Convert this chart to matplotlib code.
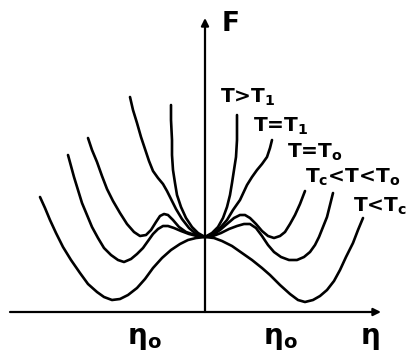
import matplotlib
matplotlib.use("Agg")
import matplotlib.pyplot as plt

plt.rcParams["font.family"] = ["DejaVu Sans"]
plt.rcParams["mathtext.fontset"] = "dejavusans"

# Landau free energy F(eta) for several temperatures (arbitrary units)
eta_below_tc = [-1.65, -1.60, -1.55, -1.49, -1.42, -1.34, -1.25, -1.17, -1.08, -1.01,
                -0.93, -0.85, -0.77, -0.68, -0.60, -0.52, -0.43, -0.34, -0.25, -0.17,
                -0.09, 0.00, 0.09, 0.17, 0.27, 0.37, 0.47, 0.57, 0.65, 0.75,
                0.85, 0.93, 1.00, 1.08, 1.15, 1.22, 1.29, 1.35, 1.41, 1.48,
                1.53, 1.58]
f_below_tc = [1.15, 1.04, 0.92, 0.79, 0.65, 0.52, 0.39, 0.28, 0.20, 0.15,
              0.12, 0.13, 0.17, 0.24, 0.33, 0.44, 0.54, 0.62, 0.68, 0.72,
              0.74, 0.75, 0.74, 0.71, 0.66, 0.59, 0.52, 0.44, 0.37, 0.27,
              0.18, 0.12, 0.10, 0.12, 0.16, 0.22, 0.31, 0.42, 0.55, 0.69,
              0.82, 0.94]

eta_tc_t0 = [-1.37, -1.34, -1.31, -1.27, -1.23, -1.18, -1.13, -1.07, -1.01, -0.94,
             -0.87, -0.81, -0.74, -0.68, -0.62, -0.57, -0.52, -0.47, -0.42, -0.37,
             -0.31, -0.24, -0.16, -0.08, 0.00,
             0.08, 0.16, 0.24, 0.32, 0.39, 0.45, 0.51, 0.57, 0.63, 0.69,
             0.76, 0.84, 0.92, 0.99, 1.05, 1.10, 1.14, 1.18, 1.22, 1.25, 1.28]
f_tc_t0 = [1.57, 1.46, 1.35, 1.22, 1.09, 0.97, 0.85, 0.74, 0.64, 0.57,
           0.52, 0.50, 0.53, 0.58, 0.64, 0.71, 0.78, 0.83, 0.86, 0.86,
           0.84, 0.81, 0.78, 0.76, 0.75,
           0.76, 0.79, 0.83, 0.86, 0.88, 0.88, 0.84, 0.76, 0.67, 0.60,
           0.55, 0.52, 0.52, 0.55, 0.60, 0.67, 0.75, 0.85, 0.95, 1.07, 1.19]

eta_t0 = [-1.17, -1.13, -1.08, -1.03, -0.98, -0.92, -0.85, -0.78, -0.71, -0.65,
          -0.59, -0.54, -0.49, -0.45, -0.41, -0.37, -0.32, -0.26, -0.19, -0.10, 0.00,
          0.08, 0.15, 0.22, 0.29, 0.35, 0.40, 0.45, 0.51, 0.57, 0.63,
          0.69, 0.75, 0.80, 0.85, 0.90, 0.95, 1.00]
f_t0 = [1.74, 1.62, 1.50, 1.36, 1.23, 1.11, 0.99, 0.88, 0.80, 0.76,
        0.77, 0.82, 0.90, 0.96, 0.98, 0.97, 0.92, 0.85, 0.80, 0.77, 0.75,
        0.77, 0.82, 0.88, 0.94, 0.97, 0.97, 0.94, 0.88, 0.81, 0.76,
        0.74, 0.76, 0.80, 0.88, 0.97, 1.08, 1.21]

eta_t1 = [-0.75, -0.72, -0.68, -0.64, -0.60, -0.56, -0.52, -0.47, -0.42, -0.38,
          -0.34, -0.29, -0.23, -0.16, -0.09, 0.00,
          0.07, 0.15, 0.22, 0.28, 0.35, 0.42, 0.47, 0.52, 0.57, 0.62, 0.65, 0.67]
f_t1 = [2.15, 2.02, 1.89, 1.75, 1.63, 1.51, 1.41, 1.34, 1.28, 1.21,
        1.13, 1.03, 0.93, 0.84, 0.78, 0.75,
        0.78, 0.84, 0.92, 1.02, 1.12, 1.27, 1.35, 1.42, 1.48, 1.55, 1.64, 1.72]

eta_above_t1 = [-0.34, -0.34, -0.33, -0.33, -0.32, -0.30, -0.28, -0.24, -0.19, -0.13,
                -0.07, 0.00,
                0.07, 0.13, 0.18, 0.22, 0.25, 0.27, 0.29, 0.31, 0.32, 0.32]
f_above_t1 = [2.07, 1.92, 1.72, 1.57, 1.42, 1.29, 1.17, 1.05, 0.94, 0.85,
              0.79, 0.75,
              0.79, 0.85, 0.94, 1.05, 1.17, 1.29, 1.42, 1.55, 1.72, 1.97]

curve_labels = ["T>T$_\\mathbf{1}$", "T=T$_\\mathbf{1}$", "T=T$_\\mathbf{o}$",
                "T$_\\mathbf{c}$<T<T$_\\mathbf{o}$", "T<T$_\\mathbf{c}$"]
label_eta = [0.15, 0.48, 0.82, 1.00, 1.48]
label_f = [2.09, 1.80, 1.54, 1.29, 1.00]

eta0_left, eta0_right = -0.61, 0.75

fig = plt.figure(figsize=(4.11, 3.56), dpi=100)
ax = fig.add_axes([0, 0, 1, 1])
ax.set_xlim(-2.05, 2.06)
ax.set_ylim(-0.44, 3.12)
ax.axis("off")

lw = 1.9
for xs, ys in [(eta_below_tc, f_below_tc), (eta_tc_t0, f_tc_t0), (eta_t0, f_t0),
               (eta_t1, f_t1), (eta_above_t1, f_above_t1)]:
    ax.plot(xs, ys, color="black", lw=lw, solid_capstyle="round",
            solid_joinstyle="round")

# coordinate axes with arrow heads
arrow = dict(arrowstyle="-|>", color="black", lw=1.6, mutation_scale=11,
             shrinkA=0, shrinkB=0)
ax.annotate("", xy=(1.76, 0.0), xytext=(-1.95, 0.0), arrowprops=arrow)
ax.annotate("", xy=(0.0, 2.94), xytext=(0.0, 0.0), arrowprops=arrow)

for text, x, y in zip(curve_labels, label_eta, label_f):
    ax.text(x, y, text, fontsize=14.5, fontweight="bold", ha="left",
            va="baseline")

ax.text(0.17, 2.81, "F", fontsize=19, fontweight="bold", ha="left",
        va="baseline")
ax.text(eta0_left, -0.32, "η$_\\mathbf{o}$", fontsize=20, fontweight="bold",
        ha="center", va="baseline")
ax.text(eta0_right, -0.32, "η$_\\mathbf{o}$", fontsize=20, fontweight="bold",
        ha="center", va="baseline")
ax.text(1.65, -0.32, "η", fontsize=20, fontweight="bold", ha="center",
        va="baseline")

fig.savefig("out.png", dpi=100, facecolor="white")
